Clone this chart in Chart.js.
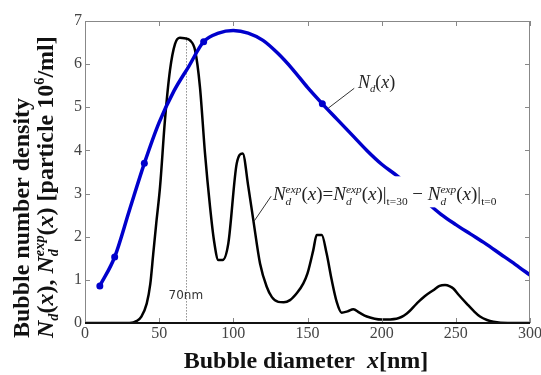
<!DOCTYPE html>
<html lang="en">
<head>
  <meta charset="UTF-8" />
  <title>Bubble number density</title>
  <script src="https://cdn.jsdelivr.net/npm/chart.js"></script>
  <style>
    body { margin: 0; background: #fff; }
    canvas { display: block; }
  </style>
</head>
<body>
  <canvas id="grafico" width="541" height="375"></canvas>

  <script>
    // N_d(x) - calculated curve (blue)
    const ndX = [10, 20, 30, 40, 50, 60, 70, 80, 90, 100, 110, 120, 130, 140, 150,
                 160, 170, 180, 190, 200, 210, 220, 230, 240, 250, 260, 270, 280, 290, 300];
    const ndY = [0.86, 1.53, 2.62, 3.70, 4.65, 5.38, 5.95, 6.52, 6.72, 6.78, 6.72, 6.55, 6.25, 5.88, 5.46,
                 5.08, 4.72, 4.36, 4.00, 3.68, 3.42, 3.12, 2.81, 2.52, 2.28, 2.06, 1.84, 1.60, 1.36, 1.11];
    const ndMarkers = [10, 20, 40, 80, 160];

    // N_d^exp(x) - measured difference (black)
    const expX = [0, 30, 35, 38, 41.6, 44, 46, 48, 50.6, 53.9, 57.3, 60.7, 64, 67, 70.8, 74.2, 77.5,
                  80.9, 84.3, 87, 89.9, 92.8, 96.6, 102.3, 106.3, 110.1, 113.5, 118, 122.5, 126, 130.3,
                  134, 138.2, 143, 147.2, 150, 153.9, 156.2, 159.6, 162.9, 166.3, 169.7, 173, 177,
                  180.9, 185, 190, 200, 210, 217, 223.6, 229, 234.8, 239, 242.7, 246, 248.3, 252,
                  257.3, 262, 266.3, 271, 275.3, 285, 300];
    const expY = [0, 0, 0.05, 0.15, 0.45, 0.9, 1.6, 2.3, 3.16, 4.7, 5.86, 6.47, 6.61, 6.6, 6.55, 6.32, 5.47,
                  3.93, 2.69, 1.9, 1.46, 1.46, 1.84, 3.70, 3.93, 3.16, 2.38, 1.38, 0.84, 0.6, 0.49,
                  0.48, 0.53, 0.7, 0.92, 1.15, 1.69, 2.04, 2.04, 1.61, 1.0, 0.49, 0.24, 0.27,
                  0.32, 0.24, 0.15, 0.08, 0.1, 0.22, 0.45, 0.62, 0.76, 0.86, 0.88, 0.85, 0.8, 0.65,
                  0.45, 0.28, 0.15, 0.07, 0.03, 0, 0];

    const xTickValues = [0, 50, 100, 150, 200, 250, 300];
    const yTickValues = [0, 1, 2, 3, 4, 5, 6, 7];

    const peakLineX = 68;      // vertical dotted line "70nm"
    const peakLineTop = 6.62;

    const SERIF = '"Liberation Serif", "Times New Roman", serif';

    // desenha texto com itálico / sub / sobrescrito
    function richText(ctx, parts, x, y, size, bold, measureOnly) {
      let cx = x, lastStart = x;
      for (const p of parts) {
        if (p.gap) { cx += p.gap; continue; }
        const fs = (p.sub || p.sup) ? size * 0.6 : size;
        ctx.font = (p.i ? 'italic ' : '') + (bold ? 'bold ' : '') + fs + 'px ' + SERIF;
        const w = ctx.measureText(p.t).width;
        const px = p.stack ? lastStart : cx;
        const dy = p.sub ? size * 0.22 : p.sup ? -size * 0.38 : 0;
        if (!measureOnly) ctx.fillText(p.t, px, y + dy);
        if (p.stack) {
          cx = Math.max(cx, px + w);
        } else {
          lastStart = px;
          cx = px + w;
        }
      }
      return cx - x;
    }

    const R = t => ({ t });
    const I = t => ({ t, i: true });

    const labelNd = [I('N'), { t: 'd', i: true, sub: true }, R('('), I('x'), R(')')];
    const labelExp = [
      I('N'), { t: 'd', i: true, sub: true }, { t: 'exp', i: true, sup: true, stack: true },
      R('('), I('x'), R(')='),
      I('N'), { t: 'd', i: true, sub: true }, { t: 'exp', i: true, sup: true, stack: true },
      R('('), I('x'), R(')|'), { t: 't=30', sub: true }, R(' \u2212 '),
      I('N'), { t: 'd', i: true, sub: true }, { t: 'exp', i: true, sup: true, stack: true },
      R('('), I('x'), R(')|'), { t: 't=0', sub: true }
    ];
    const titleX = [R('Bubble diameter'), { gap: 12 }, I('x'), R('[nm]')];
    const titleY1 = [R('Bubble number density')];
    const titleY2 = [
      I('N'), { t: 'd', i: true, sub: true }, R('('), I('x'), R('), '),
      I('N'), { t: 'd', i: true, sub: true }, { t: 'exp', i: true, sup: true, stack: true },
      R('('), I('x'), R(') [particle 10'), { t: '6', sup: true }, R('/ml]')
    ];

    const decor = {
      id: 'decor',
      beforeDatasetsDraw(chart) {
        const { ctx, scales: { x, y } } = chart;
        ctx.save();
        ctx.strokeStyle = '#555';
        ctx.lineWidth = 1;
        ctx.setLineDash([1, 2]);
        const px = Math.round(x.getPixelForValue(peakLineX)) + 0.5;
        ctx.beginPath();
        ctx.moveTo(px, y.getPixelForValue(peakLineTop));
        ctx.lineTo(px, y.getPixelForValue(0));
        ctx.stroke();
        ctx.restore();
      },
      afterDatasetsDraw(chart) {
        const { ctx, chartArea: a, scales: { x, y } } = chart;
        ctx.save();

        // caixa branca do rótulo preto
        ctx.fillStyle = '#fff';
        ctx.fillRect(x.getPixelForValue(123), y.getPixelForValue(3.4), 242, 31);

        ctx.fillStyle = '#222';
        ctx.textBaseline = 'alphabetic';
        ctx.textAlign = 'left';
        richText(ctx, labelExp, x.getPixelForValue(126.7), y.getPixelForValue(2.84), 19, false);
        richText(ctx, labelNd, x.getPixelForValue(184), y.getPixelForValue(5.44), 18, false);

        // linhas de chamada
        ctx.strokeStyle = '#333';
        ctx.lineWidth = 1;
        ctx.beginPath();
        ctx.moveTo(x.getPixelForValue(181.5), y.getPixelForValue(5.44));
        ctx.lineTo(x.getPixelForValue(164), y.getPixelForValue(4.98));
        ctx.moveTo(x.getPixelForValue(125.5), y.getPixelForValue(2.94));
        ctx.lineTo(x.getPixelForValue(114), y.getPixelForValue(2.36));
        ctx.stroke();

        // 70nm
        ctx.fillStyle = '#333';
        ctx.font = '12px "DejaVu Sans", sans-serif';
        ctx.textAlign = 'center';
        ctx.textBaseline = 'middle';
        ctx.fillText('70nm', x.getPixelForValue(68), y.getPixelForValue(0.64));

        // moldura e ticks internos
        ctx.strokeStyle = '#888';
        ctx.lineWidth = 1;
        ctx.beginPath();
        ctx.moveTo(a.left + 0.5, a.bottom);
        ctx.lineTo(a.left + 0.5, a.top + 0.5);
        ctx.lineTo(a.right - 0.5, a.top + 0.5);
        ctx.lineTo(a.right - 0.5, a.bottom);
        xTickValues.forEach(v => {
          const px = Math.round(x.getPixelForValue(v)) + 0.5;
          ctx.moveTo(px, a.top);
          ctx.lineTo(px, a.top + 5);
          ctx.moveTo(px, a.bottom);
          ctx.lineTo(px, a.bottom - 5);
        });
        yTickValues.forEach(v => {
          const py = Math.round(y.getPixelForValue(v)) + 0.5;
          ctx.moveTo(a.left, py);
          ctx.lineTo(a.left + 5, py);
          ctx.moveTo(a.right, py);
          ctx.lineTo(a.right - 5, py);
        });
        ctx.stroke();
        ctx.strokeStyle = '#111';
        ctx.lineWidth = 2;
        ctx.beginPath();
        ctx.moveTo(a.left, a.bottom);
        ctx.lineTo(a.right, a.bottom);
        ctx.stroke();

        // títulos dos eixos
        ctx.fillStyle = '#111';
        ctx.textAlign = 'left';
        ctx.textBaseline = 'alphabetic';
        const wx = richText(ctx, titleX, 0, 0, 24, true, true);
        richText(ctx, titleX, 306 - wx / 2, 368, 24, true);

        ctx.save();
        ctx.translate(29, 338);
        ctx.rotate(-Math.PI / 2);
        richText(ctx, titleY1, 0, 0, 24, true);
        ctx.restore();

        ctx.save();
        ctx.translate(53, 338);
        ctx.rotate(-Math.PI / 2);
        richText(ctx, titleY2, 0, 0, 24, true);
        ctx.restore();

        ctx.restore();
      }
    };

    const grafico = new Chart(document.getElementById('grafico'), {
      type: 'line',
      data: {
        datasets: [{
          label: 'Nd(x)',
          data: ndX.map((v, i) => ({ x: v, y: ndY[i] })),
          borderColor: '#0000cc',
          backgroundColor: '#0000cc',
          borderWidth: 3.5,
          pointRadius: c => ndMarkers.includes(c.raw && c.raw.x) ? 3.5 : 0,
          pointBorderWidth: 0,
          cubicInterpolationMode: 'monotone',
          fill: false
        }, {
          label: 'Nd exp(x)',
          data: expX.map((v, i) => ({ x: v, y: expY[i] })),
          borderColor: '#000',
          borderWidth: 2.5,
          pointRadius: 0,
          cubicInterpolationMode: 'monotone',
          fill: false
        }]
      },
      options: {
        responsive: false,
        animation: false,
        layout: { padding: { top: 21, right: 11, left: 0, bottom: 0 } },
        plugins: { legend: { display: false }, tooltip: { enabled: false } },
        scales: {
          x: {
            type: 'linear',
            min: 0,
            max: 300,
            afterBuildTicks: s => { s.ticks = xTickValues.map(v => ({ value: v })); },
            afterFit: s => { s.height = 52; s.paddingLeft = 0; s.paddingRight = 0; },
            grid: { display: false, drawTicks: false },
            border: { display: false },
            ticks: { color: '#444', padding: 1, maxRotation: 0, font: { family: SERIF, size: 16 } }
          },
          y: {
            min: 0,
            max: 7,
            afterBuildTicks: s => { s.ticks = yTickValues.map(v => ({ value: v })); },
            afterFit: s => { s.width = 85; s.paddingTop = 0; s.paddingBottom = 0; },
            grid: { display: false, drawTicks: false },
            border: { display: false },
            ticks: { color: '#444', padding: 3, font: { family: SERIF, size: 16 } }
          }
        }
      },
      plugins: [decor]
    });
  </script>
</body>
</html>
